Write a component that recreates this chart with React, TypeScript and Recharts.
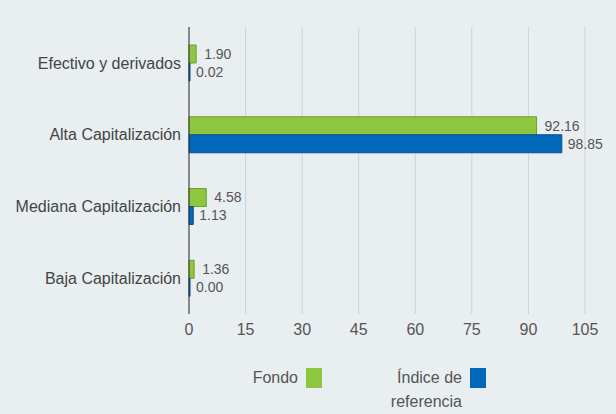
import { BarChart, Bar, XAxis, YAxis, CartesianGrid, LabelList } from 'recharts';

const categories = ['Efectivo y derivados', 'Alta Capitalización', 'Mediana Capitalización', 'Baja Capitalización'];
const fondo = [1.9, 92.16, 4.58, 1.36];
const indice = [0.02, 98.85, 1.13, 0.0];
const xTicks = [0, 15, 30, 45, 60, 75, 90, 105];

const FONT = '"Liberation Sans", Arial, sans-serif';
const BG = '#e9eef1';

const data = categories.map((name, i) => ({ name, fondo: fondo[i], indice: indice[i] }));

const legendItems = [
  { label: 'Fondo', color: '#8dc63f', left: 230, textWidth: 68 },
  { label: 'Índice de referencia', color: '#0068b8', left: 376, textWidth: 86 },
];

function ChartLegend() {
  // right-aligned text block followed by a colour square
  return (
    <div style={{ position: 'absolute', top: 366, left: 0, width: 616, height: 48 }}>
      {legendItems.map((it) => (
        <div key={it.label} style={{ position: 'absolute', left: it.left, top: 0, display: 'flex', alignItems: 'flex-start' }}>
          <div style={{ width: it.textWidth, textAlign: 'right', fontSize: 16, lineHeight: '24px', color: '#555' }}>{it.label}</div>
          <div style={{ width: 16, height: 20, background: it.color, marginLeft: 8, marginTop: 2 }} />
        </div>
      ))}
    </div>
  );
}

export default function App() {
  return (
    <div style={{ position: 'relative', width: 616, height: 414, background: BG, fontFamily: FONT }}>
      <style>{`body{margin:0}`}</style>
      <BarChart
        width={616}
        height={414}
        data={data}
        layout="vertical"
        margin={{ top: 27, right: 31, bottom: 70, left: 0 }}
        barSize={18}
        barGap={0}
      >
        <CartesianGrid horizontal={false} stroke="#cfd3d6" />
        <XAxis
          type="number"
          domain={[0, 105]}
          ticks={xTicks}
          axisLine={false}
          tickLine={false}
          tick={{ fill: '#555', fontSize: 16, dy: 2 }}
        />
        <YAxis
          type="category"
          dataKey="name"
          width={189}
          axisLine={{ stroke: '#333' }}
          tickLine={false}
          tick={{ fill: '#444', fontSize: 16 }}
        />
        <Bar dataKey="fondo" fill="#8dc63f" stroke="#6f9e2e" isAnimationActive={false}>
          <LabelList dataKey="fondo" position="right" offset={8} fill="#555" fontSize={14} formatter={(v: number) => v.toFixed(2)} />
        </Bar>
        <Bar dataKey="indice" fill="#0068b8" stroke="#0a4f8a" minPointSize={1} isAnimationActive={false}>
          <LabelList dataKey="indice" position="right" offset={6} fill="#555" fontSize={14} formatter={(v: number) => v.toFixed(2)} />
        </Bar>
      </BarChart>
      <ChartLegend />
    </div>
  );
}
